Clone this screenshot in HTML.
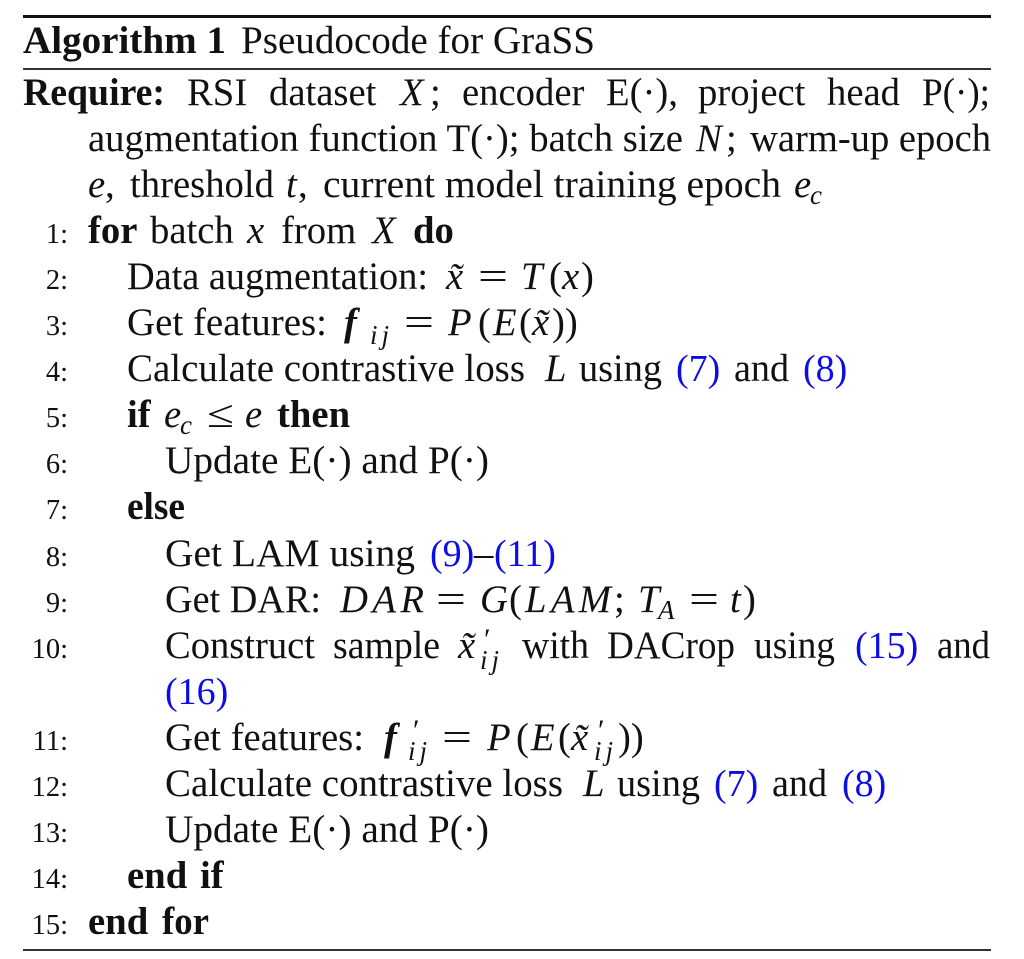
<!DOCTYPE html>
<html><head><meta charset="utf-8"><style>
html,body{margin:0;padding:0;background:#fff;width:1024px;height:959px;overflow:hidden}
svg{display:block}
text{font-family:"Liberation Serif",serif;font-size:38.7px;fill:#111;white-space:pre}
.b{font-weight:bold}.i{font-style:italic}.n{font-size:28.5px;text-anchor:end}
.s{font-size:27px;font-style:italic}.j{font-size:27px;font-style:italic;letter-spacing:4px}.l{fill:#0c0ce8;font-size:38px}
.p{font-size:30px;font-style:normal}
</style></head><body>
<svg width="1024" height="959" viewBox="0 0 1024 959" xmlns="http://www.w3.org/2000/svg">
<rect x="23" y="15" width="968" height="3" fill="#111"/>
<rect x="23" y="68" width="968" height="2" fill="#333"/>
<rect x="23" y="949" width="968" height="2" fill="#333"/>
<g transform="translate(0,1)">
<text x="23" y="52" class="b" textLength="203" lengthAdjust="spacingAndGlyphs">Algorithm 1</text><text x="241" y="52" textLength="354" lengthAdjust="spacingAndGlyphs">Pseudocode for GraSS</text>

<text x="23" y="104" class="b" textLength="142" lengthAdjust="spacingAndGlyphs">Require:</text>
<text x="187" y="104">RSI</text><text x="269" y="104">dataset</text><text x="400" y="104" class="i">X</text><text x="430" y="104">;</text>
<text x="462" y="104">encoder</text><text x="606" y="104">E(·),</text><text x="698" y="104">project</text><text x="827" y="104">head</text><text x="922" y="104" textLength="68" lengthAdjust="spacingAndGlyphs">P(·);</text>

<text x="88" y="150" textLength="595" lengthAdjust="spacingAndGlyphs">augmentation function T(·); batch size</text><text x="696" y="150" class="i">N</text><text x="726" y="150">;</text><text x="750" y="150" textLength="241" lengthAdjust="spacingAndGlyphs">warm-up epoch</text>
<text x="88" y="196" class="i">e</text><text x="105" y="196">,</text><text x="130" y="196">threshold</text><text x="286" y="196" class="i">t</text><text x="298" y="196">,</text><text x="323" y="196" textLength="458" lengthAdjust="spacingAndGlyphs">current model training epoch</text><text x="794" y="196" class="i">e</text><text x="810" y="203" class="s">c</text>

<text x="68" y="242" class="n">1:</text>
<text x="88" y="242" class="b">for</text><text x="150" y="242">batch</text><text x="247" y="242" class="i">x</text><text x="281" y="242">from</text><text x="372" y="242" class="i">X</text><text x="413" y="242" class="b">do</text>

<text x="68" y="288" class="n">2:</text>
<text x="127" y="288" textLength="301" lengthAdjust="spacingAndGlyphs">Data augmentation:</text><text x="446" y="288" class="i">x̃</text><text x="478" y="288" textLength="30" lengthAdjust="spacingAndGlyphs">=</text><text x="521" y="288" class="i">T</text><text x="549" y="288">(</text><text x="562" y="288" class="i">x</text><text x="581" y="288">)</text>

<text x="68" y="334" class="n">3:</text>
<text x="127" y="334" textLength="200" lengthAdjust="spacingAndGlyphs">Get features:</text><text x="344" y="334" class="i b">f</text><text x="370" y="343" class="j">ij</text><text x="404" y="334" textLength="30" lengthAdjust="spacingAndGlyphs">=</text><text x="448" y="334" class="i">P</text><text x="478" y="334">(</text><text x="493" y="334" class="i">E</text><text x="519" y="334">(</text><text x="532" y="334" class="i">x̃</text><text x="552" y="334">))</text>

<text x="68" y="380" class="n">4:</text>
<text x="127" y="380" textLength="398" lengthAdjust="spacingAndGlyphs">Calculate contrastive loss</text><text x="545" y="380" class="i">L</text><text x="579" y="380" textLength="83" lengthAdjust="spacingAndGlyphs">using</text><text x="676" y="380" class="l">(7)</text><text x="734" y="380" textLength="55" lengthAdjust="spacingAndGlyphs">and</text><text x="803" y="380" class="l">(8)</text>

<text x="68" y="426" class="n">5:</text>
<text x="127" y="426" class="b">if</text><text x="164" y="426" class="i">e</text><text x="180" y="433" class="s">c</text><text x="207" y="426" textLength="27" lengthAdjust="spacingAndGlyphs">≤</text><text x="245" y="426" class="i">e</text><text x="277" y="426" class="b">then</text>

<text x="68" y="472" class="n">6:</text>
<text x="165" y="472" textLength="324" lengthAdjust="spacingAndGlyphs">Update E(·) and P(·)</text>

<text x="68" y="518" class="n">7:</text>
<text x="127" y="518" class="b" textLength="58" lengthAdjust="spacingAndGlyphs">else</text>

<text x="68" y="565" class="n">8:</text>
<text x="165" y="565" textLength="250" lengthAdjust="spacingAndGlyphs">Get LAM using</text><text x="430" y="565" class="l">(9)</text><text x="474" y="565">–</text><text x="494" y="565" class="l">(11)</text>

<text x="68" y="611" class="n">9:</text>
<text x="165" y="611" textLength="156" lengthAdjust="spacingAndGlyphs">Get DAR:</text><text x="340" y="611" class="i" textLength="84">DAR</text><text x="436" y="611" textLength="30" lengthAdjust="spacingAndGlyphs">=</text><text x="480" y="611" class="i">G</text><text x="509" y="611">(</text><text x="525" y="611" class="i" textLength="86">LAM</text><text x="614" y="611">;</text><text x="638" y="611" class="i">T</text><text x="658" y="618" class="s">A</text><text x="689" y="611" textLength="30" lengthAdjust="spacingAndGlyphs">=</text><text x="730" y="611" class="i">t</text><text x="743" y="611">)</text>

<text x="68" y="657" class="n">10:</text>
<text x="165" y="657" textLength="150" lengthAdjust="spacingAndGlyphs">Construct</text><text x="333" y="657" textLength="107" lengthAdjust="spacingAndGlyphs">sample</text><text x="458" y="657" class="i">x̃</text><text x="484" y="648" class="p">′</text><text x="480" y="668" class="j">ij</text><text x="522" y="657" textLength="67" lengthAdjust="spacingAndGlyphs">with</text><text x="607" y="657" textLength="128" lengthAdjust="spacingAndGlyphs">DACrop</text><text x="754" y="657" textLength="81" lengthAdjust="spacingAndGlyphs">using</text><text x="855" y="657" class="l">(15)</text><text x="937" y="657" textLength="53" lengthAdjust="spacingAndGlyphs">and</text>
<text x="165" y="703" class="l">(16)</text>

<text x="68" y="749" class="n">11:</text>
<text x="165" y="749" textLength="199" lengthAdjust="spacingAndGlyphs">Get features:</text><text x="384" y="749" class="i b">f</text><text x="413" y="739" class="p">′</text><text x="408" y="759" class="j">ij</text><text x="442" y="749" textLength="30" lengthAdjust="spacingAndGlyphs">=</text><text x="487" y="749" class="i">P</text><text x="516" y="749">(</text><text x="531" y="749" class="i">E</text><text x="558" y="749">(</text><text x="571" y="749" class="i">x̃</text><text x="598" y="739" class="p">′</text><text x="594" y="759" class="j">ij</text><text x="618" y="749">))</text>

<text x="68" y="795" class="n">12:</text>
<text x="165" y="795" textLength="398" lengthAdjust="spacingAndGlyphs">Calculate contrastive loss</text><text x="583" y="795" class="i">L</text><text x="617" y="795" textLength="83" lengthAdjust="spacingAndGlyphs">using</text><text x="714" y="795" class="l">(7)</text><text x="772" y="795" textLength="55" lengthAdjust="spacingAndGlyphs">and</text><text x="842" y="795" class="l">(8)</text>

<text x="68" y="841" class="n">13:</text>
<text x="165" y="841" textLength="324" lengthAdjust="spacingAndGlyphs">Update E(·) and P(·)</text>

<text x="68" y="887" class="n">14:</text>
<text x="127" y="887" class="b">end</text><text x="200" y="887" class="b">if</text>

<text x="68" y="933" class="n">15:</text>
<text x="88" y="933" class="b">end</text><text x="162" y="933" class="b" textLength="47" lengthAdjust="spacingAndGlyphs">for</text>
</g>
</svg>
</body></html>
